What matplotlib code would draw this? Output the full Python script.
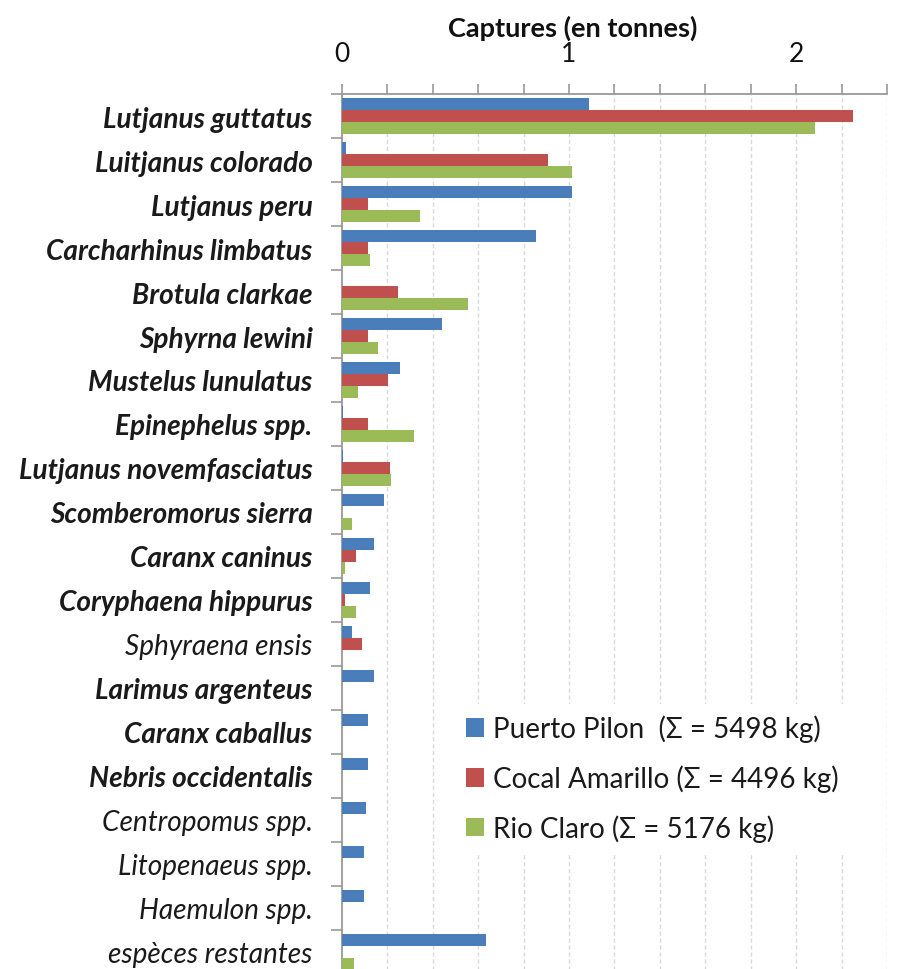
import numpy as np
import matplotlib
matplotlib.use("Agg")
import matplotlib.pyplot as plt
from matplotlib.patches import Patch

plt.rcParams['font.family'] = ['Lato', 'DejaVu Sans']

species = [
    "Lutjanus guttatus", "Luitjanus colorado", "Lutjanus peru",
    "Carcharhinus limbatus", "Brotula clarkae", "Sphyrna lewini",
    "Mustelus lunulatus", "Epinephelus spp.", "Lutjanus novemfasciatus",
    "Scomberomorus sierra", "Caranx caninus", "Coryphaena hippurus",
    "Sphyraena ensis", "Larimus argenteus", "Caranx caballus",
    "Nebris occidentalis", "Centropomus spp.", "Litopenaeus spp.",
    "Haemulon spp.", "espèces restantes",
]
bold_species = [True] * 12 + [False, True, True, True, False, False, False, False]

# catches in tonnes per landing site
puerto_pilon = [1.086, 0.018, 1.015, 0.856, 0.0, 0.442, 0.257, 0.005, 0.004,
                0.187, 0.143, 0.125, 0.047, 0.143, 0.116, 0.116, 0.107, 0.098,
                0.098, 0.636]
cocal_amarillo = [2.249, 0.909, 0.116, 0.116, 0.248, 0.116, 0.204, 0.116, 0.213,
                  0.0, 0.064, 0.013, 0.090, 0.0, 0.0, 0.0, 0.0, 0.0, 0.0, 0.003]
rio_claro = [2.082, 1.015, 0.345, 0.125, 0.556, 0.160, 0.072, 0.319, 0.215,
             0.047, 0.013, 0.064, 0.003, 0.0, 0.003, 0.0, 0.0, 0.0, 0.0, 0.054]

series_labels = ["Puerto Pilon  (Σ = 5498 kg)", "Cocal Amarillo (Σ = 4496 kg)",
                 "Rio Claro (Σ = 5176 kg)"]
colors = ["#4a7ebb", "#c0504d", "#9bbb59"]

fig = plt.figure(figsize=(8.99, 9.70), dpi=100)
ax = fig.add_axes([0.380, -0.005, 0.607, 0.907])

n = len(species)
y = np.arange(n)
h = 0.27
for offset, vals, c in zip([-h, 0, h], [puerto_pilon, cocal_amarillo, rio_claro], colors):
    ax.barh(y + offset, vals, height=h, color=c, edgecolor='none', zorder=3)

ax.set_ylim(n - 0.5, -0.5)
ax.set_xlim(0, 2.4)

# top axis with labelled ticks at 0, 1, 2 and marks every 0.2
ax.xaxis.tick_top()
ax.set_xticks([0, 1, 2])
ax.set_xticklabels(["0", "1", "2"], fontsize=19)
ax.set_xticks(np.arange(0, 2.41, 0.2), minor=True)
ax.tick_params(axis='x', which='both', direction='out', length=7, width=1.2,
               color='#999999', pad=13)
ax.tick_params(axis='x', which='major', labelcolor='#111111')
fig.text(573 / 899, 1 - 28 / 970, "Captures (en tonnes)", fontsize=19.5,
         fontweight='bold', ha='center', va='center', color='#111111')

for xv in np.arange(0.2, 2.41, 0.2):
    ax.axvline(xv, color='#d9d9d9', lw=1.0, ls=(0, (3, 2)), zorder=1)

# category labels
ax.set_yticks(y)
ax.set_yticklabels(species)
for lab, b in zip(ax.get_yticklabels(), bold_species):
    lab.set_fontsize(20.2)
    lab.set_style('italic')
    lab.set_fontweight('bold' if b else 'normal')
    lab.set_color('#1a1a1a')
ax.tick_params(axis='y', which='major', length=0, pad=21)
ax.set_yticks(np.arange(-0.5, n, 1.0), minor=True)
ax.tick_params(axis='y', which='minor', direction='out', length=8, width=1.2,
               color='#999999')

for side in ['right', 'bottom']:
    ax.spines[side].set_visible(False)
for side in ['top', 'left']:
    ax.spines[side].set_color('#999999')
    ax.spines[side].set_linewidth(1.3)

handles = [Patch(facecolor=c, edgecolor='none') for c in colors]
leg = ax.legend(handles, series_labels, loc='upper left',
                bbox_to_anchor=(0.4905, 0.288), bbox_transform=fig.transFigure,
                fontsize=20, frameon=True, handlelength=0.65, handleheight=0.65,
                handletextpad=0.32, labelspacing=0.8, borderpad=0.4)
leg.get_frame().set_facecolor('white')
leg.get_frame().set_edgecolor('none')
leg.get_frame().set_alpha(1)
for t in leg.get_texts():
    t.set_color('#1a1a1a')

fig.savefig("out.png", dpi=100, facecolor='white')
